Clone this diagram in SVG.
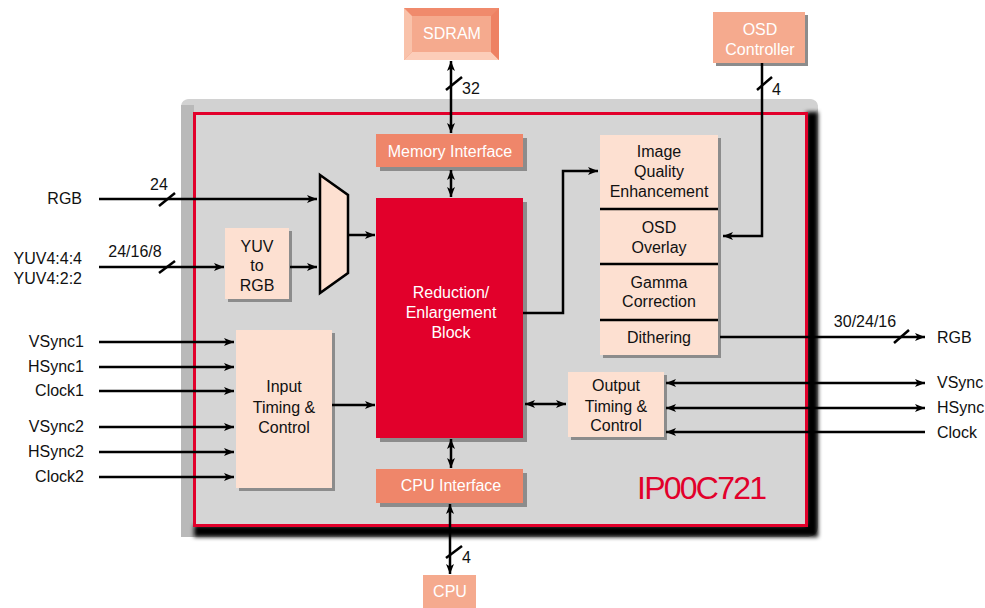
<svg xmlns="http://www.w3.org/2000/svg" width="985" height="608" viewBox="0 0 985 608">
<defs>
<style>
text{font-family:"Liberation Sans",Arial,sans-serif;font-size:16px;}
.w{fill:#ffffff;text-anchor:middle;}
.b{fill:#111111;text-anchor:middle;}
.r{fill:#111111;text-anchor:end;}
.l{fill:#111111;text-anchor:start;}
.ln{stroke:#000;stroke-width:2.5;fill:none;}
.a{marker-end:url(#ah);}
.d{marker-start:url(#ah);marker-end:url(#ah);}
.sl{stroke:#000;stroke-width:2.5;}
.peach{fill:#fde0d1;}
.salmon{fill:#ef866a;}
.light{fill:#f5aa8e;}
.sh{fill:#8c8c8c;}
</style>
<marker id="ah" viewBox="0 0 10 8" refX="10" refY="4" markerWidth="10" markerHeight="8" markerUnits="userSpaceOnUse" orient="auto-start-reverse">
<path d="M0,0 L10,4 L0,8 L2.5,4 Z" fill="#000"/>
</marker>
<filter id="blur" x="-5%" y="-5%" width="110%" height="110%"><feGaussianBlur stdDeviation="2"/></filter>
<linearGradient id="frame" x1="0" y1="0" x2="1" y2="1">
<stop offset="0" stop-color="#d8d8d8"/>
<stop offset="1" stop-color="#b4b4b4"/>
</linearGradient>
</defs>
<rect width="985" height="608" fill="#ffffff"/>

<g id="chip">
<rect x="181" y="99" width="637" height="438" rx="10" fill="url(#frame)"/>
<rect x="181" y="99" width="637" height="14" rx="8" fill="#d2d2d2"/>
<rect x="181" y="105" width="13" height="432" fill="#b9b9b9"/>
<g filter="url(#blur)">
<rect x="806" y="112" width="12" height="425" fill="#000"/>
<rect x="194" y="525" width="624" height="12" fill="#000"/>
</g>
<rect x="194.5" y="113.5" width="612" height="412" fill="#d5d5d5" stroke="#e2002b" stroke-width="3"/>
<text x="702" y="499" style="font-size:32px;fill:#e2002b;text-anchor:middle;" textLength="130">IP00C721</text>
</g>

<g id="sdram">
<rect x="404" y="8" width="95" height="52" fill="#f08a6c"/>
<polygon points="404,8 412,16 412,52 404,60" fill="#f9c2aa"/>
<polygon points="404,60 412,52 491,52 499,60" fill="#fccdb9"/>
<polygon points="499,8 491,16 491,52 499,60" fill="#ee8163"/>
<rect x="412" y="16" width="79" height="36" fill="#f5aa8e"/>
<text class="w" x="452" y="39">SDRAM</text>
</g>

<g id="osd-controller">
<rect class="sh" x="716" y="15" width="92" height="51"/>
<rect class="light" x="713" y="12" width="92" height="51"/>
<text class="w" x="760" y="35">OSD</text>
<text class="w" x="760" y="55">Controller</text>
</g>

<g id="memory-interface">
<rect class="sh" x="380" y="138" width="147" height="33"/>
<rect class="salmon" x="376" y="134" width="147" height="33"/>
<text class="w" x="450" y="157">Memory Interface</text>
</g>

<g id="reduction">
<rect class="sh" x="380" y="202" width="147" height="240"/>
<rect x="376" y="198" width="147" height="240" fill="#e2002b"/>
<text class="w" x="451" y="298">Reduction/</text>
<text class="w" x="451" y="318">Enlargement</text>
<text class="w" x="451" y="338">Block</text>
</g>

<g id="cpu-interface">
<rect class="sh" x="380" y="473" width="147" height="34"/>
<rect class="salmon" x="376" y="469" width="147" height="34"/>
<text class="w" x="451" y="491">CPU Interface</text>
</g>

<g id="cpu">
<rect class="light" x="423" y="575" width="53" height="33"/>
<text class="w" x="450" y="597">CPU</text>
</g>

<g id="mux">
<polygon points="320,175 348,195 348,273 320,293" fill="#fde0d1" stroke="#000" stroke-width="2.5" stroke-linejoin="miter"/>
</g>

<g id="yuv-to-rgb">
<rect class="sh" x="228" y="231" width="64" height="71"/>
<rect class="peach" x="225" y="228" width="64" height="71"/>
<text class="b" x="257" y="252">YUV</text>
<text class="b" x="257" y="271">to</text>
<text class="b" x="257" y="291">RGB</text>
</g>

<g id="input-timing">
<rect class="sh" x="239" y="333" width="96" height="158"/>
<rect class="peach" x="236" y="330" width="96" height="158"/>
<text class="b" x="284" y="392">Input</text>
<text class="b" x="284" y="413">Timing &amp;</text>
<text class="b" x="284" y="433">Control</text>
</g>

<g id="image-pipeline">
<rect class="sh" x="603" y="138" width="118" height="220"/>
<rect class="peach" x="600" y="135" width="118" height="220"/>
<line class="ln" x1="600" y1="209" x2="718" y2="209"/>
<line class="ln" x1="600" y1="264" x2="718" y2="264"/>
<line class="ln" x1="600" y1="320" x2="718" y2="320"/>
<text class="b" x="659" y="157">Image</text>
<text class="b" x="659" y="177">Quality</text>
<text class="b" x="659" y="197">Enhancement</text>
<text class="b" x="659" y="233">OSD</text>
<text class="b" x="659" y="253">Overlay</text>
<text class="b" x="659" y="288">Gamma</text>
<text class="b" x="659" y="307">Correction</text>
<text class="b" x="659" y="343">Dithering</text>
</g>

<g id="output-timing">
<rect class="sh" x="571" y="375" width="96" height="65"/>
<rect class="peach" x="568" y="372" width="96" height="65"/>
<text class="b" x="616" y="391">Output</text>
<text class="b" x="616" y="412">Timing &amp;</text>
<text class="b" x="616" y="431">Control</text>
</g>

<g id="connectors">
<line class="ln d" x1="451" y1="61" x2="451" y2="133"/>
<line class="sl" x1="446" y1="90" x2="462" y2="77"/>
<text class="l" x="462" y="94">32</text>

<polyline class="ln a" points="762,63 762,236 723,236"/>
<line class="sl" x1="757" y1="90" x2="772" y2="77"/>
<text class="l" x="772" y="95">4</text>

<line class="ln d" x1="451" y1="170" x2="451" y2="197"/>
<line class="ln d" x1="451" y1="439" x2="451" y2="468"/>
<line class="ln d" x1="450" y1="504" x2="450" y2="574"/>
<line class="sl" x1="446" y1="558" x2="462" y2="546"/>
<text class="l" x="462" y="563">4</text>

<line class="ln a" x1="99" y1="199" x2="317" y2="199"/>
<line class="sl" x1="159" y1="206" x2="175" y2="193"/>
<text class="r" x="82" y="204">RGB</text>
<text class="b" x="159" y="190">24</text>

<line class="ln a" x1="99" y1="267" x2="224" y2="267"/>
<line class="sl" x1="159" y1="273" x2="175" y2="261"/>
<text class="r" x="82" y="264">YUV4:4:4</text>
<text class="r" x="82" y="284">YUV4:2:2</text>
<text class="b" x="135" y="257">24/16/8</text>

<line class="ln a" x1="290" y1="267" x2="317" y2="267"/>
<line class="ln a" x1="348" y1="235" x2="375" y2="235"/>

<line class="ln a" x1="99" y1="342" x2="234" y2="342"/>
<line class="ln a" x1="99" y1="367" x2="234" y2="367"/>
<line class="ln a" x1="99" y1="391" x2="234" y2="391"/>
<line class="ln a" x1="99" y1="427" x2="234" y2="427"/>
<line class="ln a" x1="99" y1="452" x2="234" y2="452"/>
<line class="ln a" x1="99" y1="477" x2="234" y2="477"/>
<text class="r" x="84" y="347">VSync1</text>
<text class="r" x="84" y="372">HSync1</text>
<text class="r" x="84" y="396">Clock1</text>
<text class="r" x="84" y="432">VSync2</text>
<text class="r" x="84" y="457">HSync2</text>
<text class="r" x="84" y="482">Clock2</text>

<line class="ln a" x1="332" y1="405" x2="375" y2="405"/>

<polyline class="ln a" points="523,313 563,313 563,171 598,171"/>

<line class="ln d" x1="525" y1="404" x2="566" y2="404"/>

<line class="ln a" x1="720" y1="337" x2="925" y2="337"/>
<line class="sl" x1="894" y1="343" x2="909" y2="330"/>
<text class="b" x="865" y="327">30/24/16</text>
<text class="l" x="937" y="343">RGB</text>

<line class="ln d" x1="666" y1="383" x2="925" y2="383"/>
<line class="ln d" x1="666" y1="408" x2="925" y2="408"/>
<line class="ln a" x1="925" y1="432" x2="666" y2="432"/>
<text class="l" x="937" y="388">VSync</text>
<text class="l" x="937" y="413">HSync</text>
<text class="l" x="937" y="438">Clock</text>
</g>
</svg>
